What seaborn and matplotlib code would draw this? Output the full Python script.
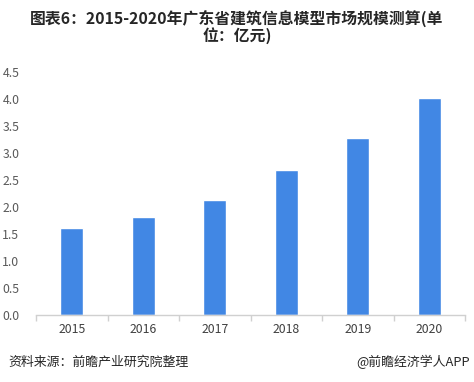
import matplotlib
matplotlib.use("Agg")
import matplotlib.pyplot as plt
import seaborn as sns
import pandas as pd

years = ["2015", "2016", "2017", "2018", "2019", "2020"]
values = [1.61, 1.82, 2.13, 2.69, 3.28, 4.03]
yticks = [0.0, 0.5, 1.0, 1.5, 2.0, 2.5, 3.0, 3.5, 4.0, 4.5]
title = "图表6：2015-2020年广东省建筑信息模型市场规模测算(单\n位：亿元)"
source = "资料来源：前瞻产业研究院整理"
brand = "@前瞻经济学人APP"

sns.set_theme(style="white")
plt.rcParams['font.family'] = ['Noto Sans CJK SC', 'DejaVu Sans']

df = pd.DataFrame({"year": years, "value": values})

fig = plt.figure(figsize=(4.74, 3.82), dpi=100)
ax = fig.add_axes([36/474, 1-315/382, (465-36)/474, (315-72.3)/382])
sns.barplot(data=df, x="year", y="value", color="#4187E4", width=0.32,
            saturation=1, ax=ax)
ax.set_ylim(0, 4.5)
ax.set_xlim(-0.5, 5.5)
ax.set_yticks(yticks)
ax.set_yticklabels([f"{t:.1f}" for t in yticks])
ax.set_xlabel("")
ax.set_ylabel("")
for s in ["top", "right", "left"]:
    ax.spines[s].set_visible(False)
ax.spines["bottom"].set_color("#d0d0d0")
ax.spines["bottom"].set_linewidth(1)
ax.tick_params(axis="y", length=0, labelsize=8.8, labelcolor="#595959", pad=12)
ax.tick_params(axis="x", length=0, labelsize=8.8, labelcolor="#404040", pad=6)
# boundary ticks
ax.set_xticks([i - 0.5 for i in range(7)], minor=True)
ax.tick_params(axis="x", which="minor", length=4, color="#d0d0d0", width=1, bottom=True)

fig.text(0.5, 1-27/382, title, ha="center", va="center", fontsize=11.4,
         fontweight="bold", color="#262626", linespacing=1.0)
fig.text(8/474, 1-362/382, source, ha="left", va="center", fontsize=9.3, color="#262626")
fig.text(470/474, 1-362/382, brand, ha="right", va="center", fontsize=9.3, color="#262626")

fig.savefig("out.png", dpi=100)
